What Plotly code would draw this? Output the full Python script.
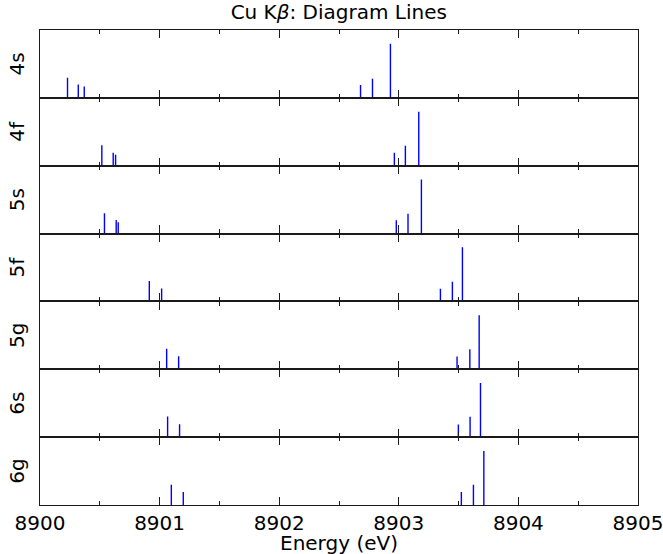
import plotly.graph_objects as go
from plotly.subplots import make_subplots

# Cu K-beta diagram lines: energies (eV) and relative intensities per spectator level
levels = ["4s", "4f", "5s", "5f", "5g", "6s", "6g"]

energy_4s = [8900.23, 8900.32, 8900.37, 8902.68, 8902.78, 8902.93]
inten_4s = [0.37, 0.245, 0.21, 0.24, 0.355, 1.00]

energy_4f = [8900.517, 8900.612, 8900.632, 8902.963, 8903.055, 8903.167]
inten_4f = [0.38, 0.24, 0.205, 0.24, 0.37, 1.00]

energy_5s = [8900.539, 8900.637, 8900.654, 8902.979, 8903.077, 8903.189]
inten_5s = [0.375, 0.25, 0.21, 0.245, 0.365, 1.00]

energy_5f = [8900.914, 8901.017, 8903.348, 8903.448, 8903.532]
inten_5f = [0.38, 0.24, 0.235, 0.365, 1.00]

energy_5g = [8901.059, 8901.159, 8903.487, 8903.594, 8903.672]
inten_5g = [0.38, 0.24, 0.235, 0.37, 1.00]

energy_6s = [8901.067, 8901.167, 8903.498, 8903.596, 8903.683]
inten_6s = [0.38, 0.24, 0.235, 0.375, 1.00]

energy_6g = [8901.098, 8901.198, 8903.523, 8903.624, 8903.711]
inten_6g = [0.375, 0.24, 0.24, 0.375, 1.00]

energies = [energy_4s, energy_4f, energy_5s, energy_5f, energy_5g, energy_6s, energy_6g]
intensities = [inten_4s, inten_4f, inten_5s, inten_5f, inten_5g, inten_6s, inten_6g]

x_ticks = [8900, 8901, 8902, 8903, 8904, 8905]

FONT = "DejaVu Sans, Liberation Sans, sans-serif"
AXIS_COLOR = "#1a1a1a"

n = len(levels)
fig = make_subplots(rows=n, cols=1, shared_xaxes=True, vertical_spacing=0)

for i, (lvl, es, hs) in enumerate(zip(levels, energies, intensities), start=1):
    xs, ys = [], []
    for e, h in zip(es, hs):
        xs += [e, e, None]
        ys += [0, h, None]
    fig.add_trace(
        go.Scatter(x=xs, y=ys, mode="lines", line=dict(color="#0000ff", width=1.4),
                   showlegend=False, hoverinfo="skip"),
        row=i, col=1,
    )
    fig.update_yaxes(
        row=i, col=1,
        range=[0, 1.255], showticklabels=False, ticks="", showgrid=False, zeroline=False,
        showline=True, mirror=True, linecolor=AXIS_COLOR, linewidth=1.2,
        title=dict(text=lvl, font=dict(size=20, family=FONT, color="black"), standoff=8),
        fixedrange=True, automargin=False,
    )
    fig.update_xaxes(
        row=i, col=1,
        range=[8900, 8905], autorange=False, tickvals=x_ticks, ticks="inside", ticklen=8,
        tickwidth=1.2, tickcolor=AXIS_COLOR, showgrid=False, zeroline=False,
        showline=True, mirror="ticks", linecolor=AXIS_COLOR, linewidth=1.2,
        minor=dict(dtick=0.5, tick0=8900, ticks="inside", ticklen=4, tickwidth=1.2,
                   tickcolor=AXIS_COLOR, showgrid=False),
        showticklabels=(i == n), automargin=False, ticklabeloverflow="allow",
        tickfont=dict(size=20, family=FONT, color="black"),
    )

fig.update_xaxes(row=n, col=1, ticklabelstandoff=0)

# x-axis title placed just below the tick labels
fig.add_annotation(
    text="Energy (eV)", xref="paper", yref="paper", x=0.5, y=-0.079,
    xanchor="center", yanchor="middle", showarrow=False,
    font=dict(size=20, family=FONT, color="black"),
)

fig.update_layout(
    width=663, height=554,
    margin=dict(l=40, r=25, t=30, b=49, autoexpand=False),
    paper_bgcolor="white", plot_bgcolor="white",
    title=dict(text="Cu K<i>β</i>: Diagram Lines", x=0.511, xanchor="center",
               y=0.978, yanchor="middle",
               font=dict(size=20, family=FONT, color="black")),
    font=dict(family=FONT, color="black"),
)

fig.write_html("out.html")
